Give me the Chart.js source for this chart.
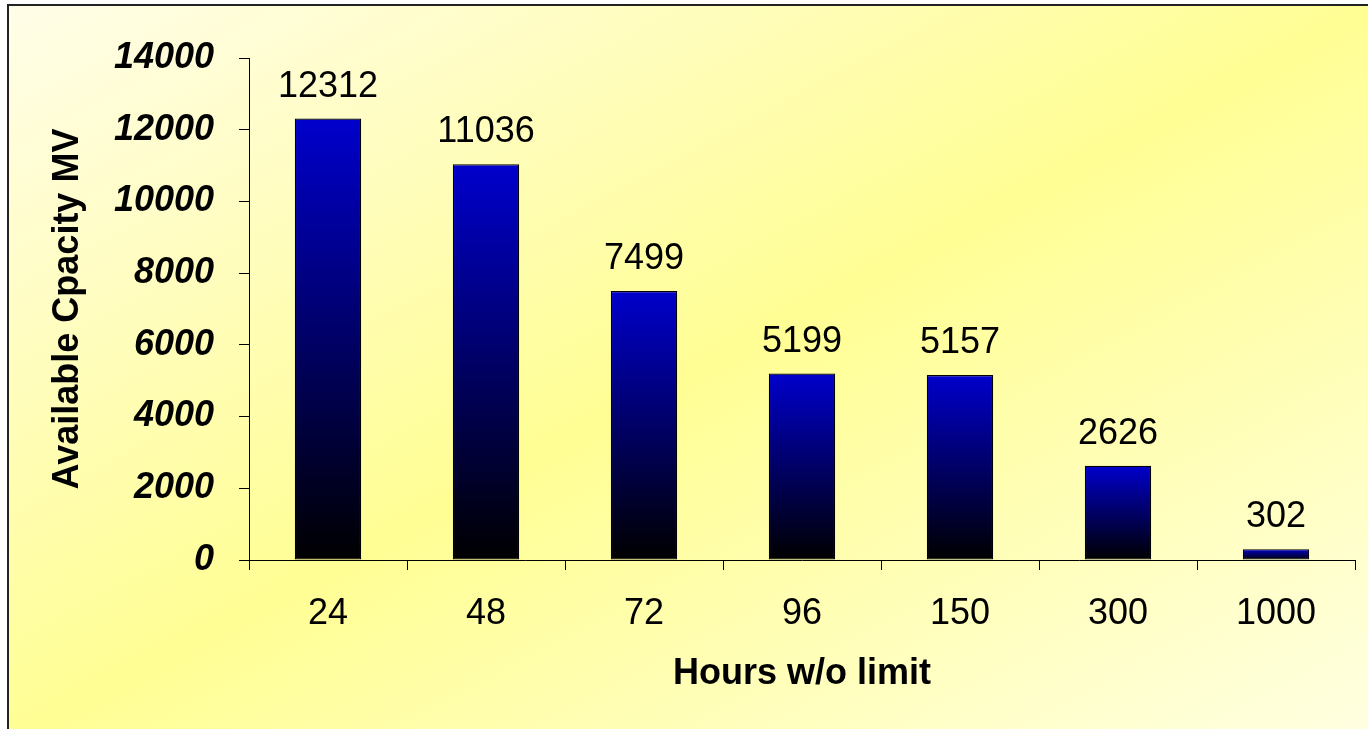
<!DOCTYPE html>
<html>
<head>
<meta charset="utf-8">
<script src="https://cdn.jsdelivr.net/npm/chart.js@4/dist/chart.umd.min.js"></script>
<style>
  html, body { margin: 0; padding: 0; background: #fff; overflow: hidden; }
  canvas { display: block; }
</style>
</head>
<body>
<canvas id="c" width="1368" height="729"></canvas>
<script>
const categories = ["24", "48", "72", "96", "150", "300", "1000"];
const capacityValues = [12312, 11036, 7499, 5199, 5157, 2626, 302];
const yTickValues = [0, 2000, 4000, 6000, 8000, 10000, 12000, 14000];
const xTitle = "Hours w/o limit";
const yTitle = "Available Cpacity MV";

const FONT = '"Liberation Sans", Arial, Helvetica, sans-serif';

const backgroundPlugin = {
  id: 'bgFrame',
  beforeDraw(chart) {
    const ctx = chart.ctx;
    const W = chart.width, H = chart.height;
    ctx.save();
    ctx.fillStyle = '#ffffff';
    ctx.fillRect(0, 0, W, H);
    const fx = 8, fy = 5, fw = W - fx + 10, fh = H - fy + 10;
    ctx.save();
    ctx.translate(fx, fy);
    ctx.scale(fw, fh);
    const g = ctx.createLinearGradient(0, 0, 1, 1);
    g.addColorStop(0, '#FFFDE8');
    g.addColorStop(0.5, '#FFFE94');
    g.addColorStop(1, '#FFFFE2');
    ctx.fillStyle = g;
    ctx.fillRect(0, 0, 1, 1);
    ctx.restore();
    ctx.strokeStyle = '#222222';
    ctx.lineWidth = 2;
    ctx.strokeRect(fx, fy, fw, fh);
    ctx.restore();
  }
};

const dataLabelPlugin = {
  id: 'dataLabels',
  afterDatasetsDraw(chart) {
    const ctx = chart.ctx;
    const meta = chart.getDatasetMeta(0);
    const ds = chart.data.datasets[0];
    ctx.save();
    ctx.font = '36px ' + FONT;
    ctx.fillStyle = '#000';
    ctx.textAlign = 'center';
    ctx.textBaseline = 'alphabetic';
    meta.data.forEach((el, i) => {
      ctx.fillText(String(ds.data[i]), el.x, el.y - 22);
    });
    ctx.restore();
  }
};

function barGradient(context) {
  const chart = context.chart;
  const { ctx, chartArea, scales } = chart;
  if (!chartArea || !scales.y) return '#0000CC';
  const v = context.raw;
  const top = scales.y.getPixelForValue(v);
  const base = scales.y.getPixelForValue(0);
  if (!isFinite(top) || !isFinite(base) || top === base) return '#0000CC';
  const g = ctx.createLinearGradient(0, top, 0, base);
  g.addColorStop(0, '#0000CC');
  g.addColorStop(1, '#000000');
  return g;
}

new Chart(document.getElementById('c'), {
  type: 'bar',
  data: {
    labels: categories,
    datasets: [{
      data: capacityValues,
      backgroundColor: barGradient,
      borderColor: '#000000',
      borderWidth: 1.2,
      borderSkipped: false,
      categoryPercentage: 1.0,
      barPercentage: 0.42
    }]
  },
  options: {
    responsive: false,
    animation: false,
    devicePixelRatio: 1,
    layout: { padding: { left: 0, top: 58, right: 13, bottom: 0 } },
    plugins: {
      legend: { display: false },
      tooltip: { enabled: false },
      title: { display: false }
    },
    scales: {
      x: {
        offset: true,
        afterFit(scale) { scale.height = 169; },
        grid: { drawOnChartArea: false, offset: true, tickLength: 10, color: '#000', lineWidth: 1 },
        border: { display: true, color: '#000', width: 1 },
        ticks: { color: '#000', padding: 22, font: { family: FONT, size: 36 }, maxRotation: 0 },
        title: {
          display: true, text: xTitle, color: '#000',
          font: { family: FONT, size: 36, weight: 'bold' },
          padding: { top: 0, bottom: 33 }
        }
      },
      y: {
        min: 0, max: 14000,
        afterFit(scale) { scale.width = 249; },
        afterBuildTicks(scale) { scale.ticks = yTickValues.map(v => ({ value: v })); },
        grid: { drawOnChartArea: false, tickLength: 10, color: '#000', lineWidth: 1 },
        border: { display: true, color: '#000', width: 1 },
        ticks: {
          color: '#000', padding: 25,
          font: { family: FONT, size: 36, weight: 'bold', style: 'italic' },
          callback: (v) => String(v)
        },
        title: {
          display: true, text: yTitle, color: '#000',
          font: { family: FONT, size: 36, weight: 'bold' },
          padding: { top: 46, bottom: 0 }
        }
      }
    }
  },
  plugins: [backgroundPlugin, dataLabelPlugin]
});
</script>
</body>
</html>
